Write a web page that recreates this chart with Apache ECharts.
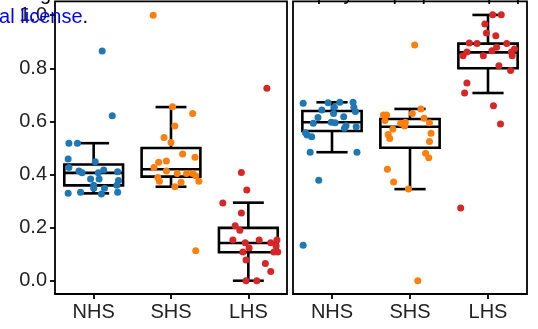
<!DOCTYPE html>
<html>
<head>
<meta charset="utf-8">
<script src="https://cdn.jsdelivr.net/npm/echarts@6/dist/echarts.min.js"></script>
<style>
html,body{margin:0;padding:0;background:#fff;}
#chart{width:538px;height:329px;}
</style>
</head>
<body>
<div id="chart"></div>
<script>
const categories = ['NHS', 'SHS', 'LHS'];
const yTicks = [0, 0.2, 0.4, 0.6, 0.8, 1.0];
const colors = ['#1f77b4', '#ff7f0e', '#d62728'];

// box stats: [lower whisker, Q1, median, Q3, upper whisker]
const leftBoxes = [
  [0.329, 0.359, 0.406, 0.438, 0.518],
  [0.354, 0.392, 0.420, 0.500, 0.654],
  [0.000, 0.107, 0.142, 0.199, 0.294]
];
const rightBoxes = [
  [0.484, 0.564, 0.597, 0.639, 0.672],
  [0.345, 0.501, 0.580, 0.609, 0.647],
  [0.707, 0.800, 0.860, 0.893, 1.001]
];

// jittered points: values and horizontal jitter (category units)
const leftNHS = [0.518,0.518,0.458,0.448,0.426,0.413,0.407,0.417,0.407,0.41,0.383,0.383,0.377,0.36,0.36,0.348,0.348,0.329,0.333,0.327,0.333,0.865,0.621];
const leftNHSJit = [-0.32,-0.21,-0.33,0.02,-0.32,-0.19,-0.15,0.13,0.06,0.31,-0.04,0.07,0.32,0,0.30,0,0.14,-0.33,-0.17,0.10,0.31,0.11,0.24];
const leftSHS = [0.655,0.630,0.583,0.539,0.521,0.477,0.465,0.446,0.451,0.426,0.413,0.404,0.404,0.404,0.395,0.389,0.375,0.375,0.371,0.354,1.0,0.113];
const leftSHSJit = [0.02,0.28,0.05,-0.09,0,0.15,0.31,-0.16,-0.06,-0.22,-0.06,0.08,0.20,0.28,0.32,-0.17,-0.15,0.36,0.13,0.05,-0.23,0.32];
const leftLHS = [0.408,0.342,0.293,0.255,0.207,0.190,0.153,0.153,0.143,0.143,0.153,0.131,0.123,0.108,0.108,0.108,0.078,0.065,0.035,0.0,0.0,0.725];
const leftLHSJit = [-0.09,-0.02,-0.33,-0.09,-0.17,-0.11,-0.20,0.14,-0.04,0.29,0.37,0.36,0.01,-0.07,0.33,0.38,-0.03,0.22,0.29,-0.03,0.11,0.24];
const rightNHS = [0.668,0.670,0.672,0.672,0.653,0.653,0.643,0.637,0.630,0.618,0.615,0.593,0.597,0.595,0.584,0.580,0.574,0.557,0.549,0.542,0.484,0.484,0.378,0.134];
const rightNHSJit = [-0.37,-0.05,0.10,0.27,0.28,0.03,-0.13,0.30,0.02,0.15,-0.18,-0.24,-0.01,0.04,0.18,0.31,0.16,-0.34,-0.32,-0.26,-0.28,0.32,-0.17,-0.37];
const rightSHS = [0.647,0.630,0.624,0.624,0.612,0.603,0.595,0.597,0.593,0.583,0.571,0.555,0.551,0.536,0.524,0.480,0.463,0.420,0.372,0.345,0.888,0.0];
const rightSHSJit = [0.14,0.03,-0.34,-0.30,0.18,-0.32,0.25,-0.06,-0.12,-0.07,-0.22,0.27,-0.28,-0.26,0.25,0.20,0.24,-0.29,-0.21,-0.02,0.06,0.10];
const rightLHS = [1.002,1.002,0.967,0.933,0.923,0.895,0.893,0.893,0.879,0.873,0.866,0.861,0.861,0.847,0.847,0.847,0.810,0.792,0.745,0.707,0.659,0.590,0.274];
const rightLHSJit = [0.06,0.17,-0.04,-0.02,0.10,-0.24,-0.14,0.24,0.11,0.34,0.05,-0.27,0.30,-0.32,-0.06,0.31,0.14,0.29,-0.27,-0.30,0.07,0.16,-0.35];

const FONT = '"Liberation Sans", Arial, sans-serif';
const TXT = '#222';

function boxData(boxes) {
  return boxes.map((b, i) => [i].concat(b));
}
function pts(vals, jit, idx) {
  return vals.map((v, i) => [idx + jit[i], v]);
}
function renderBox(params, api) {
  const x = api.value(0);
  const lo = api.coord([x, api.value(1)]);
  const q1 = api.coord([x, api.value(2)]);
  const md = api.coord([x, api.value(3)]);
  const q3 = api.coord([x, api.value(4)]);
  const hi = api.coord([x, api.value(5)]);
  const bw = api.size([0.76, 0])[0];
  const cw = api.size([0.4, 0])[0];
  const cx = md[0];
  const st = { stroke: '#000', lineWidth: 2.6, fill: null };
  return {
    type: 'group',
    children: [
      { type: 'line', shape: { x1: cx, y1: hi[1], x2: cx, y2: q3[1] }, style: st },
      { type: 'line', shape: { x1: cx, y1: q1[1], x2: cx, y2: lo[1] }, style: st },
      { type: 'line', shape: { x1: cx - cw / 2, y1: hi[1], x2: cx + cw / 2, y2: hi[1] }, style: st },
      { type: 'line', shape: { x1: cx - cw / 2, y1: lo[1], x2: cx + cw / 2, y2: lo[1] }, style: st },
      { type: 'rect', shape: { x: cx - bw / 2, y: q3[1], width: bw, height: q1[1] - q3[1] }, style: { stroke: '#000', lineWidth: 2.6, fill: '#fff' } },
      { type: 'line', shape: { x1: cx - bw / 2, y1: md[1], x2: cx + bw / 2, y2: md[1] }, style: st }
    ]
  };
}

function catAxis(gridIndex) {
  return {
    type: 'category', gridIndex, data: categories, boundaryGap: true, position: 'bottom',
    axisLine: { show: false, onZero: false },
    axisTick: { show: true, alignWithLabel: true, length: 5, lineStyle: { color: '#000', width: 1.8 } },
    axisLabel: { fontSize: 20, color: TXT, fontFamily: FONT, margin: 8 },
    splitLine: { show: false }
  };
}
function valXAxis(gridIndex) {
  return { type: 'value', gridIndex, min: -0.5, max: 2.5, show: false, position: 'bottom',
    axisLine: { onZero: false }, splitLine: { show: false } };
}
function yAx(gridIndex, labels) {
  return {
    type: 'value', gridIndex, min: -0.05, max: 1.052, position: 'left',
    axisLine: { show: false, onZero: false },
    splitLine: { show: false },
    axisTick: { show: labels, customValues: yTicks, length: 5, lineStyle: { color: '#000', width: 1.8 } },
    axisLabel: { show: labels, customValues: yTicks, fontSize: 20, color: TXT, fontFamily: FONT, margin: 8,
      formatter: v => Number(v).toFixed(1) }
  };
}

function scatter(xi, yi, data, color) {
  return {
    type: 'scatter', xAxisIndex: xi, yAxisIndex: yi, data, symbolSize: 7,
    itemStyle: { color, opacity: 1 }, z: 5, silent: true
  };
}

const chart = echarts.init(document.getElementById('chart'), null, { renderer: 'canvas' });
chart.setOption({
  animation: false,
  backgroundColor: '#fff',
  grid: [
    { left: 55, top: 1.4, width: 232, height: 292.6, show: true, borderColor: '#000', borderWidth: 1.8, backgroundColor: 'transparent' },
    { left: 293, top: 1.4, width: 234, height: 292.6, show: true, borderColor: '#000', borderWidth: 1.8, backgroundColor: 'transparent' }
  ],
  xAxis: [catAxis(0), valXAxis(0), catAxis(1), valXAxis(1)],
  yAxis: [yAx(0, true), yAx(1, false)],
  series: [
    { type: 'custom', xAxisIndex: 1, yAxisIndex: 0, data: boxData(leftBoxes), renderItem: renderBox, encode: { x: 0, y: [1, 2, 3, 4, 5] }, z: 2, silent: true },
    scatter(1, 0, pts(leftNHS, leftNHSJit, 0), colors[0]),
    scatter(1, 0, pts(leftSHS, leftSHSJit, 1), colors[1]),
    scatter(1, 0, pts(leftLHS, leftLHSJit, 2), colors[2]),
    { type: 'custom', xAxisIndex: 3, yAxisIndex: 1, data: boxData(rightBoxes), renderItem: renderBox, encode: { x: 0, y: [1, 2, 3, 4, 5] }, z: 2, silent: true },
    scatter(3, 1, pts(rightNHS, rightNHSJit, 0), colors[0]),
    scatter(3, 1, pts(rightSHS, rightSHSJit, 1), colors[1]),
    scatter(3, 1, pts(rightLHS, rightLHSJit, 2), colors[2])
  ],
  graphic: [
    { type: 'text', z: 100, silent: true, style: { text: 'who has granted bioRxiv a license to display the preprint in perpetuity. It is made available', x: -40, y: -5.5, font: '20px ' + FONT, fill: '#000', align: 'left', verticalAlign: 'middle' } },
    { type: 'text', z: 100, silent: true, style: { text: 'CC-BY 4.0 International license', x: 82.5, y: 17.5, font: '20px ' + FONT, fill: '#0000ff', align: 'right', verticalAlign: 'middle' } },
    { type: 'text', z: 100, silent: true, style: { text: '.', x: 82.5, y: 17.5, font: '20px ' + FONT, fill: '#000', align: 'left', verticalAlign: 'middle' } }
  ]
});
</script>
</body>
</html>
